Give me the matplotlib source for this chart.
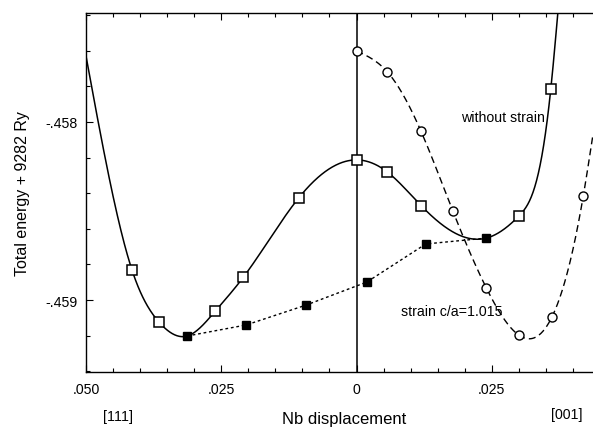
import numpy as np
import matplotlib
matplotlib.use("Agg")
import matplotlib.pyplot as plt
from matplotlib.ticker import MultipleLocator

plt.rcParams['font.family'] = ['Liberation Sans', 'DejaVu Sans']

# without strain (open squares, solid curve)
x_open = [-0.0415, -0.0365, -0.0261, -0.0209, -0.0107, 0.0, 0.0057, 0.0120, 0.0300, 0.0359]
y_open = [-0.458831, -0.459124, -0.459062, -0.458871, -0.458427, -0.458213, -0.458281, -0.458472, -0.458528, -0.457815]
# curve ends
x_solid_ends = [-0.0500, 0.0372]
y_solid_ends = [-0.457629, -0.457388]

# filled squares (dotted line)
x_filled = [-0.0313, -0.0204, -0.0093, 0.0019, 0.0128, 0.0240]
y_filled = [-0.459202, -0.459140, -0.459028, -0.458899, -0.458685, -0.458652]

# strain c/a = 1.015 (circles, dashed curve)
x_circ = [0.0, 0.0057, 0.0119, 0.0178, 0.0240, 0.0300, 0.0361, 0.0419]
y_circ = [-0.457601, -0.457719, -0.458051, -0.458500, -0.458933, -0.459197, -0.459096, -0.458416]
x_dash_end = [0.0437]
y_dash_end = [-0.458070]

xtick_vals = [-0.050, -0.025, 0.0, 0.025]
xtick_labels = ['.050', '.025', '0', '.025']
ytick_vals = [-0.458, -0.459]
ytick_labels = ['-.458', '-.459']


def nat_spline(x, y, xs):
    x = np.asarray(x, float); y = np.asarray(y, float)
    n = len(x); h = np.diff(x)
    A = np.zeros((n, n)); r = np.zeros(n)
    A[0, 0] = A[-1, -1] = 1
    for i in range(1, n - 1):
        A[i, i - 1] = h[i - 1]; A[i, i] = 2 * (h[i - 1] + h[i]); A[i, i + 1] = h[i]
        r[i] = 3 * ((y[i + 1] - y[i]) / h[i] - (y[i] - y[i - 1]) / h[i - 1])
    c = np.linalg.solve(A, r)
    b = (y[1:] - y[:-1]) / h - h * (c[1:] + 2 * c[:-1]) / 3
    d = (c[1:] - c[:-1]) / (3 * h)
    idx = np.clip(np.searchsorted(x, xs) - 1, 0, n - 2)
    t = xs - x[idx]
    return y[idx] + b[idx] * t + c[idx] * t ** 2 + d[idx] * t ** 3


fig = plt.figure(figsize=(5.93, 4.31), dpi=100)
ax = fig.add_axes([0.145, 0.1346, 0.855, 0.8329])

# solid curve
xs_k = np.array(x_solid_ends[:1] + x_open[:2] + [x_filled[0]] + x_open[2:8] + [x_filled[-1]] + x_open[8:] + x_solid_ends[1:])
ys_k = np.array(y_solid_ends[:1] + y_open[:2] + [y_filled[0]] + y_open[2:8] + [y_filled[-1]] + y_open[8:] + y_solid_ends[1:])
xx = np.linspace(xs_k[0], xs_k[-1], 800)
ax.plot(xx, nat_spline(xs_k, ys_k, xx), color='black', lw=1.1, zorder=2)

# dashed curve
xd_k = np.array(x_circ + x_dash_end)
yd_k = np.array(y_circ + y_dash_end)
xx = np.linspace(xd_k[0], xd_k[-1], 600)
ax.plot(xx, nat_spline(xd_k, yd_k, xx), color='black', lw=1.0, dashes=(5, 3), zorder=2)

# dotted line
ax.plot(x_filled, y_filled, color='black', lw=1.0, dashes=(2, 2), zorder=2)

ax.plot(x_open, y_open, ls='none', marker='s', ms=6.5, mfc='white', mec='black', mew=1.1, zorder=3)
ax.plot(x_circ, y_circ, ls='none', marker='o', ms=6.5, mfc='white', mec='black', mew=1.0, zorder=3)
ax.plot(x_filled, y_filled, ls='none', marker='s', ms=6, mfc='black', mec='black', zorder=4)

ax.axvline(0, color='black', lw=1.1, zorder=1)

ax.set_xlim(-0.05, 0.0437)
ax.set_ylim(-0.459404, -0.457388)

ax.set_xticks(xtick_vals)
ax.set_xticklabels(xtick_labels)
ax.set_yticks(ytick_vals)
ax.set_yticklabels(ytick_labels)
ax.xaxis.set_minor_locator(MultipleLocator(0.005))
ax.yaxis.set_minor_locator(MultipleLocator(0.0002))
ax.tick_params(which='both', direction='in', top=True, right=False, labelsize=10.2, width=0.8)
ax.tick_params(which='major', length=5)
ax.tick_params(which='minor', length=3)
ax.tick_params(axis='x', pad=7)
ax.tick_params(axis='y', pad=6)
ax.spines['right'].set_visible(False)
for s in ['left', 'top', 'bottom']:
    ax.spines[s].set_linewidth(1.0)

ax.set_ylabel('Total energy + 9282 Ry', fontsize=11.5, labelpad=11)

fig.text(344 / 593, 1 - 420 / 431, 'Nb displacement', fontsize=12, ha='center', va='center')
fig.text(118 / 593, 1 - 417 / 431, '[111]', fontsize=10.2, ha='center', va='center')
fig.text(567 / 593, 1 - 415 / 431, '[001]', fontsize=10.2, ha='center', va='center')

ax.text(0.0193, -0.457972, 'without strain', fontsize=10.2, ha='left', va='center')
ax.text(0.0083, -0.459062, 'strain c/a=1.015', fontsize=10.2, ha='left', va='center')

fig.savefig('out.png', dpi=100)
